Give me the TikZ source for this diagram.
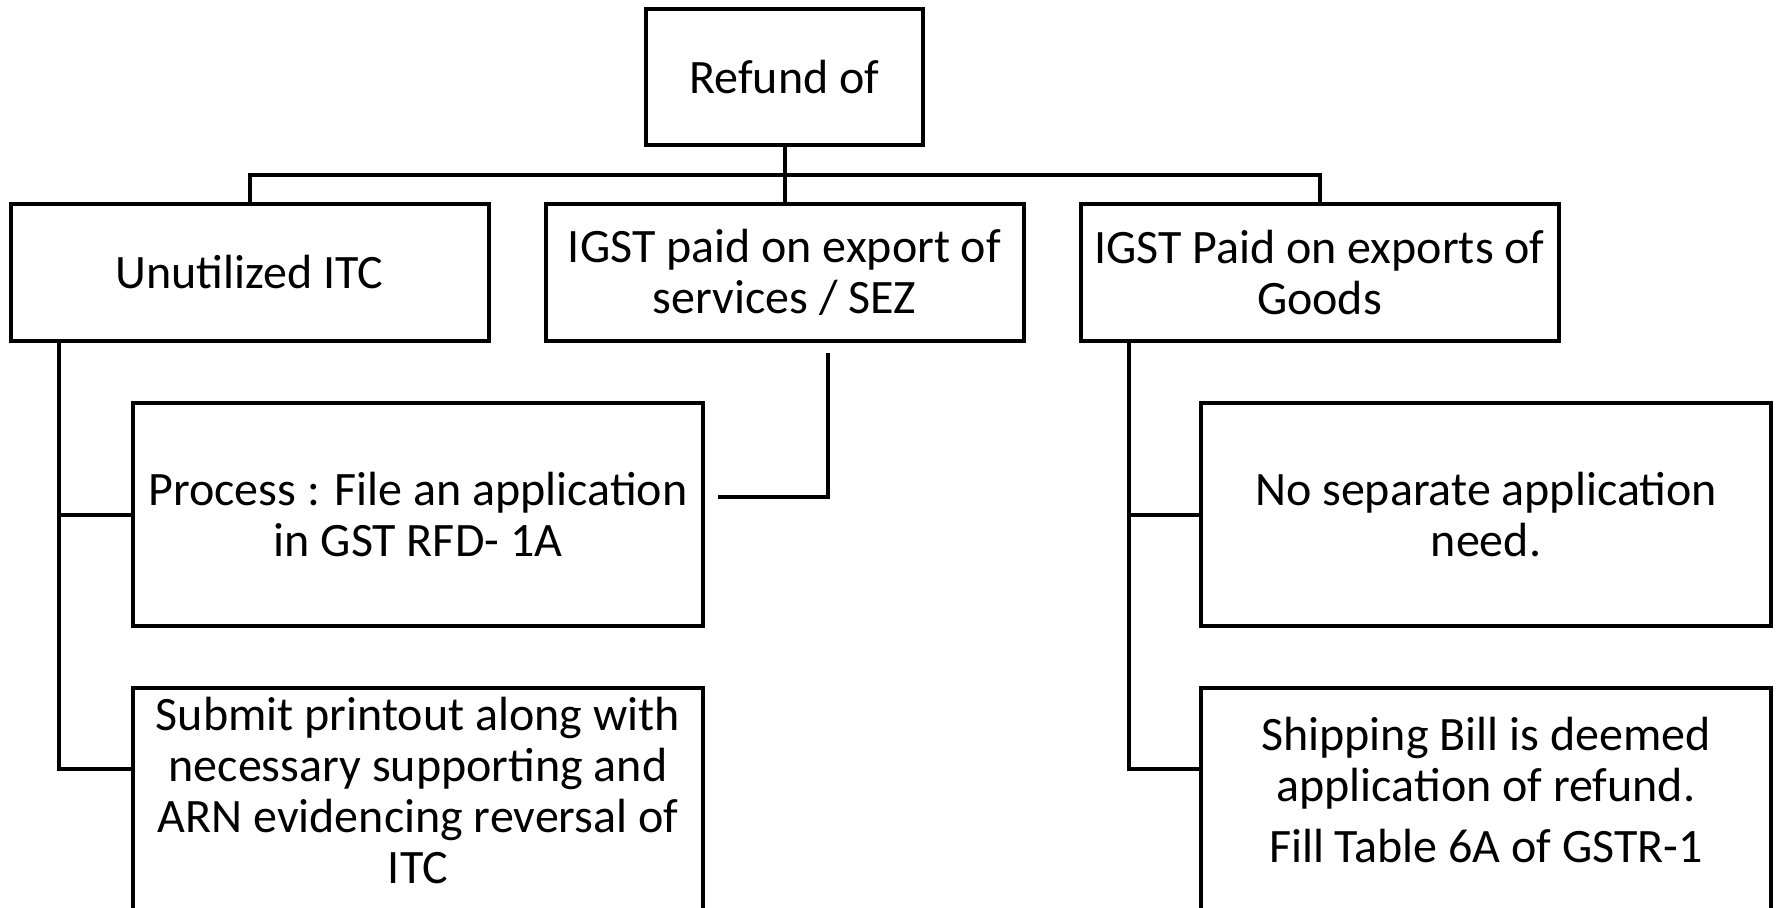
\documentclass[tikz,border=0pt]{standalone}
\usepackage{fontspec}
\setmainfont{Carlito}
\usetikzlibrary{positioning}
\usetikzlibrary{calc}

\begin{document}
\begin{tikzpicture}[ x = 0.5pt, y = -0.5pt
                     , line width = 2pt
                     , font = \fontsize{24}{25.5}\selectfont
                     , every node/.style = { rectangle
                                           , draw = black
                                           , line width = 2pt
                                           , align = center
                                           , inner sep = 0pt }
                     , headbox/.style = { minimum width = 138.5pt, minimum height = 68pt }
                     , kindbox/.style = { minimum width = 239pt, minimum height = 68.5pt }
                     , stepbox/.style = { minimum width = 285pt, minimum height = 111.5pt }
                     , lastbox/.style = { minimum width = 285pt, minimum height = 115pt
                                        , text depth = 13pt }
                     ]
  \useasboundingbox (0,0) rectangle (1777,907);
  \clip (0,0) rectangle (1777,907);

  %%
  %% Nodes
  %%
  \node (refund) [headbox] at (784.5,77) {Refund of};
  \node (svc) [kindbox, below = 27.5pt of refund] {IGST paid on export of\\ services / SEZ};
  \node (itc) [kindbox, left = 26.5pt of svc] {Unutilized ITC};
  \node (goods) [kindbox, right = 26.5pt of svc] {IGST Paid on exports of\\ Goods};

  \node (file) [stepbox, anchor = north west] at (131,401)
        {Process : File an application\\ in GST RFD- 1A};
  \node (submit) [lastbox, below = 29pt of file]
        {Submit printout along with\\ necessary supporting and\\ ARN evidencing reversal of\\ ITC};
  \node (noapp) [stepbox, anchor = north west] at (1199,401)
        {No separate application\\ need.};
  \node (ship) [lastbox, below = 29pt of noapp]
        {Shipping Bill is deemed\\ application of refund.\\[5pt] Fill Table 6A of GSTR-1};

  %%
  %% Connectors
  %%
  \draw (refund) -- (svc);
  \draw (itc.north) |- ($(refund.south)!0.5!(svc.north)$) -| (goods.north);
  % Left and right trunks.
  \draw (itc.south west) ++(50,0) coordinate (ltrunk) |- (file.west);
  \draw (ltrunk) |- ($(submit.north west)+(0,83)$);
  \draw (goods.south west) ++(50,0) coordinate (rtrunk) |- (noapp.west);
  \draw (rtrunk) |- ($(ship.north west)+(0,83)$);
  % Services to process (not touching).
  \draw ($(svc.south)+(43,10)$) |- ($(file.east)+(13,-18)$);
\end{tikzpicture}
\end{document}
